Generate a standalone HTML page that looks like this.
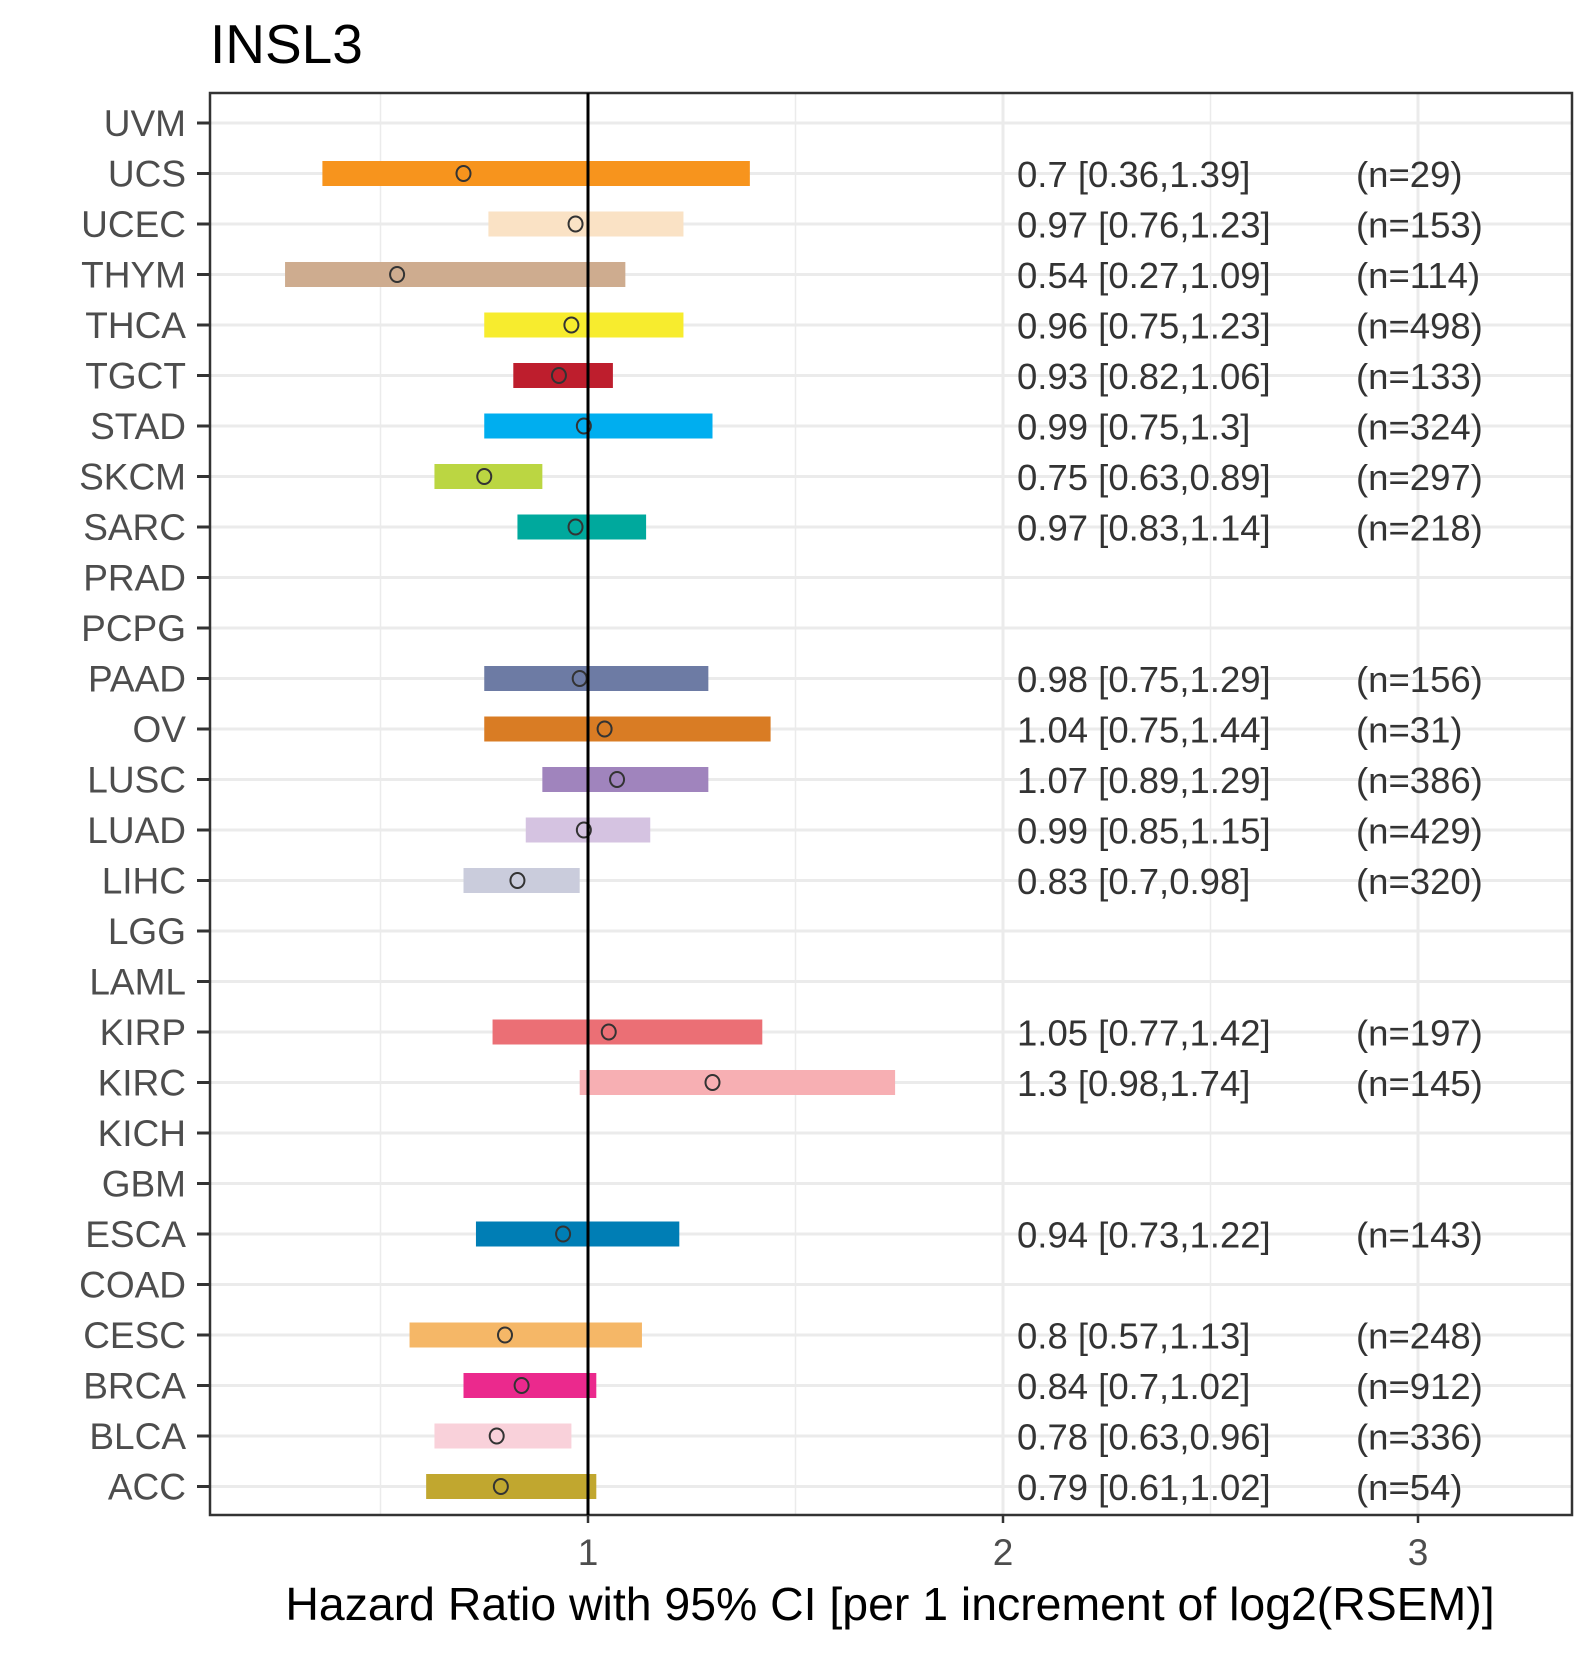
<!DOCTYPE html>
<html><head><meta charset="utf-8"><style>
body{margin:0;background:#fff}
svg text{font-family:"Liberation Sans",sans-serif}
</style></head><body>
<svg id="chart" width="1590" height="1650" viewBox="0 0 1590 1650" xmlns="http://www.w3.org/2000/svg">
<text x="210" y="63" font-size="55" fill="#000">INSL3</text>
<g id="grid"></g>
<g id="bars"></g>
<g id="labels"></g>
<rect x="210" y="93" width="1362" height="1422" fill="none" stroke="#333" stroke-width="2.5"/>
<text x="890" y="1620" font-size="46.4" text-anchor="middle" fill="#000">Hazard Ratio with 95% CI [per 1 increment of log2(RSEM)]</text>
</svg>
<script>
const cancers=["UVM","UCS","UCEC","THYM","THCA","TGCT","STAD","SKCM","SARC","PRAD","PCPG","PAAD","OV","LUSC","LUAD","LIHC","LGG","LAML","KIRP","KIRC","KICH","GBM","ESCA","COAD","CESC","BRCA","BLCA","ACC"];
const hr=[null,0.7,0.97,0.54,0.96,0.93,0.99,0.75,0.97,null,null,0.98,1.04,1.07,0.99,0.83,null,null,1.05,1.3,null,null,0.94,null,0.8,0.84,0.78,0.79];
const lower=[null,0.36,0.76,0.27,0.75,0.82,0.75,0.63,0.83,null,null,0.75,0.75,0.89,0.85,0.7,null,null,0.77,0.98,null,null,0.73,null,0.57,0.7,0.63,0.61];
const upper=[null,1.39,1.23,1.09,1.23,1.06,1.3,0.89,1.14,null,null,1.29,1.44,1.29,1.15,0.98,null,null,1.42,1.74,null,null,1.22,null,1.13,1.02,0.96,1.02];
const nvals=[null,29,153,114,498,133,324,297,218,null,null,156,31,386,429,320,null,null,197,145,null,null,143,null,248,912,336,54];
const colors=["#888","#F7941D","#FAE2C5","#CEAC8F","#F7EC2E","#BE1E2D","#00AEEF","#BBD642","#00A99D","#999","#999","#6D7BA4","#D97C24","#A084BD","#D5C3E1","#CACCDC","#999","#999","#EB6F75","#F7AFB3","#999","#999","#007EB5","#999","#F5B767","#EB298D","#F9D1DA","#C1A72F"];
const xTicks=[1,2,3];
const ns="http://www.w3.org/2000/svg";
const X=v=>588+(v-1)*415;
const Y=i=>123+i*50.5;
function mk(tag,attrs,parent,text){const e=document.createElementNS(ns,tag);for(const k in attrs)e.setAttribute(k,attrs[k]);if(text!==undefined)e.textContent=text;parent.appendChild(e);return e;}
const grid=document.getElementById('grid'),bars=document.getElementById('bars'),lab=document.getElementById('labels'),svg=document.getElementById('chart');
[0.5,1.5,2.5].forEach(v=>{const l=mk('line',{x1:X(v),x2:X(v),y1:93,y2:1515,stroke:'#ebebeb','stroke-width':1.5},grid);

});
xTicks.forEach(v=>{const l=mk('line',{x1:X(v),x2:X(v),y1:93,y2:1515,stroke:'#ebebeb','stroke-width':3},grid);


const t=mk('line',{x1:X(v),x2:X(v),y1:1515,y2:1523,stroke:'#333','stroke-width':2.5},lab);


const tl=mk('text',{x:X(v),y:1565,'font-size':37,'text-anchor':'middle',fill:'#4d4d4d'},lab,String(v));

});
cancers.forEach((c,i)=>{const y=Y(i);
const g=mk('line',{x1:210,x2:1572,y1:y,y2:y,stroke:'#ebebeb','stroke-width':3},grid);


const tk=mk('line',{x1:197,x2:210,y1:y,y2:y,stroke:'#333','stroke-width':3},lab);


const tl=mk('text',{x:186,y:y+13,'font-size':37,'text-anchor':'end',fill:'#4d4d4d'},lab,c);


if(hr[i]!==null){
const r=mk('rect',{x:X(lower[i]),y:y-12.5,width:X(upper[i])-X(lower[i]),height:25,fill:colors[i]},bars);


const p=mk('ellipse',{cx:X(hr[i]),cy:y,rx:7,ry:7.5,fill:'none',stroke:'#333','stroke-width':2},bars);


const t1=mk('text',{x:1017,y:y+13.5,'font-size':36.5,fill:'#333'},lab,hr[i]+' ['+lower[i]+','+upper[i]+']');


const t2=mk('text',{x:1356,y:y+13.5,'font-size':36.5,fill:'#333'},lab,'(n='+nvals[i]+')');

}
});
const ref=mk('line',{x1:X(1),x2:X(1),y1:93,y2:1515,stroke:'#000','stroke-width':3},svg);


</script>
</body></html>
